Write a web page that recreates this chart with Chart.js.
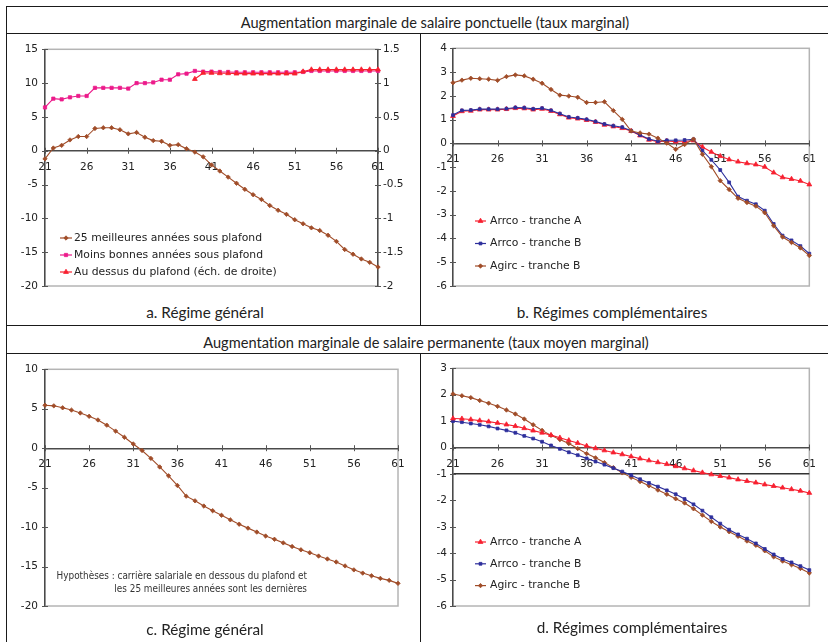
<!DOCTYPE html>
<html>
<head>
<meta charset="utf-8">
<script src="https://cdn.jsdelivr.net/npm/chart.js@4.4.1/dist/chart.umd.min.js"></script>
<style>
  html, body { margin: 0; padding: 0; background: #fff; }
  #page { position: relative; width: 828px; height: 642px; overflow: hidden; font-family: Lato, "Open Sans", sans-serif; color: #222;
          font-variant-ligatures: none; }
  .hline { position: absolute; height: 0; border-top: 1px solid #1a1a1a; }
  .vline { position: absolute; width: 0; border-left: 1px solid #1a1a1a; }
  .title { position: absolute; font-size: 14.6px; line-height: 18px; white-space: nowrap; transform: translateX(-50%); }
  .caption { position: absolute; font-size: 15.3px; line-height: 18px; white-space: nowrap; transform: translateX(-50%); }
  .panel { position: absolute; }
  .note { position: absolute; right: 521px; top: 570px; text-align: right; white-space: nowrap;
          font-family: "Liberation Sans Narrow", "DejaVu Sans Condensed", sans-serif; font-size: 9.9px; line-height: 12.5px; color: #333; }
</style>
</head>
<body>
<div id="page">
  <div class="hline" style="left:6px; width:822px; top:6px;"></div>
  <div class="hline" style="left:6px; width:822px; top:33px;"></div>
  <div class="hline" style="left:6px; width:822px; top:325px;"></div>
  <div class="hline" style="left:6px; width:822px; top:353px;"></div>
  <div class="vline" style="left:6px; top:6px; height:636px;"></div>
  <div class="vline" style="left:420px; top:33px; height:292px;"></div>
  <div class="vline" style="left:420px; top:353px; height:289px;"></div>

  <div class="title" style="left:435px; top:14px;">Augmentation marginale de salaire ponctuelle (taux marginal)</div>
  <div class="title" style="left:426px; top:334px;">Augmentation marginale de salaire permanente (taux moyen marginal)</div>

  <canvas id="chartA" class="panel" width="410" height="266" style="left:8px; top:36px;"></canvas>
  <canvas id="chartB" class="panel" width="404" height="266" style="left:422px; top:36px;"></canvas>
  <canvas id="chartC" class="panel" width="410" height="266" style="left:8px; top:356px;"></canvas>
  <canvas id="chartD" class="panel" width="404" height="266" style="left:422px; top:356px;"></canvas>

  <div class="caption" style="left:205px; top:303px;">a. Régime général</div>
  <div class="caption" style="left:612px; top:303px;">b. Régimes complémentaires</div>
  <div class="caption" style="left:205px; top:620px;">c. Régime général</div>
  <div class="caption" style="left:632px; top:618px;">d. Régimes complémentaires</div>

  <div class="note">Hypothèses : carrière salariale en dessous du plafond et<br>les 25 meilleures années sont les dernières</div>
</div>

<script>
// Ages (x categories)
const ages = [21, 22, 23, 24, 25, 26, 27, 28, 29, 30, 31, 32, 33, 34, 35, 36, 37, 38, 39, 40,
              41, 42, 43, 44, 45, 46, 47, 48, 49, 50, 51, 52, 53, 54, 55, 56, 57, 58, 59, 60, 61];
const xLabelEvery = 5;

// a. Régime général - taux marginal
const aBest25 = [-1.2, 0.4, 0.8, 1.6, 2.1, 2.1, 3.3, 3.4, 3.4, 3.1, 2.5, 2.7, 2.0, 1.5, 1.4, 0.8, 0.9, 0.3, -0.2, -0.9,
                 -2.1, -3.0, -3.9, -4.8, -5.7, -6.5, -7.2, -8.1, -8.8, -9.4, -10.2, -10.8, -11.4, -11.8, -12.5, -13.4, -14.6, -15.3, -16.0, -16.5, -17.2];
const aLessGood = [6.4, 7.7, 7.6, 7.9, 8.1, 8.1, 9.3, 9.3, 9.3, 9.3, 9.2, 10.0, 10.0, 10.1, 10.5, 10.5, 11.3, 11.4, 11.8, 11.7,
                   11.7, 11.65, 11.65, 11.6, 11.6, 11.6, 11.6, 11.6, 11.6, 11.6, 11.6, 11.65, 11.8, 11.8, 11.8, 11.8, 11.8, 11.8, 11.8, 11.8, 11.8];
const aAbove = [null, null, null, null, null, null, null, null, null, null, null, null, null, null, null, null, null, null, 1.06, 1.15,
                1.15, 1.145, 1.145, 1.14, 1.14, 1.14, 1.14, 1.14, 1.14, 1.14, 1.14, 1.17, 1.2, 1.2, 1.2, 1.2, 1.2, 1.2, 1.2, 1.2, 1.2];

// b. Régimes complémentaires - taux marginal
const bArrcoA = [1.15, 1.35, 1.37, 1.42, 1.42, 1.42, 1.44, 1.48, 1.47, 1.42, 1.45, 1.36, 1.22, 1.08, 1.04, 0.98, 0.9, 0.78, 0.71, 0.64,
                 0.52, 0.33, 0.15, 0.07, 0.1, 0.07, 0.08, 0.12, -0.15, -0.36, -0.54, -0.68, -0.77, -0.84, -0.89, -0.99, -1.23, -1.43, -1.5, -1.58, -1.73];
const bArrcoB = [1.19, 1.39, 1.40, 1.44, 1.44, 1.44, 1.46, 1.51, 1.50, 1.45, 1.48, 1.39, 1.25, 1.11, 1.07, 1.01, 0.92, 0.81, 0.74, 0.68,
                 0.53, 0.35, 0.18, 0.09, 0.13, 0.13, 0.14, 0.17, -0.3, -0.69, -1.12, -1.64, -2.24, -2.41, -2.56, -2.83, -3.39, -3.88, -4.08, -4.32, -4.64];
const bAgircB = [2.55, 2.66, 2.74, 2.72, 2.70, 2.65, 2.81, 2.88, 2.84, 2.70, 2.53, 2.27, 2.03, 1.99, 1.94, 1.72, 1.72, 1.75, 1.38, 1.01,
                 0.52, 0.44, 0.39, 0.22, 0.01, -0.25, -0.05, 0.18, -0.46, -0.98, -1.57, -1.94, -2.31, -2.49, -2.64, -2.92, -3.47, -3.94, -4.17, -4.40, -4.72];

// c. Régime général - taux moyen marginal
const cGeneral = [5.45, 5.37, 5.12, 4.83, 4.46, 4.04, 3.58, 2.92, 2.17, 1.38, 0.54, -0.29, -1.29, -2.38, -3.5, -4.72, -6.08, -6.67, -7.33, -7.92,
                  -8.5, -9.08, -9.63, -10.13, -10.63, -11.13, -11.54, -12.0, -12.46, -12.88, -13.25, -13.67, -14.04, -14.42, -14.92, -15.42, -15.83, -16.17, -16.5, -16.75, -17.13];

// d. Régimes complémentaires - taux moyen marginal
const dArrcoA = [1.10, 1.09, 1.06, 1.02, 0.98, 0.93, 0.87, 0.81, 0.73, 0.64, 0.56, 0.47, 0.37, 0.27, 0.17, 0.06, -0.03, -0.11, -0.19, -0.26,
                 -0.34, -0.42, -0.49, -0.56, -0.63, -0.71, -0.79, -0.87, -0.95, -1.02, -1.08, -1.14, -1.21, -1.27, -1.33, -1.4, -1.46, -1.52, -1.58, -1.64, -1.72];
const dArrcoB = [1.0, 0.96, 0.91, 0.86, 0.8, 0.72, 0.65, 0.56, 0.44, 0.34, 0.22, 0.08, -0.05, -0.18, -0.29, -0.41, -0.53, -0.65, -0.78, -0.91,
                 -1.05, -1.2, -1.34, -1.48, -1.62, -1.77, -1.95, -2.15, -2.39, -2.64, -2.88, -3.11, -3.29, -3.45, -3.63, -3.84, -4.05, -4.22, -4.35, -4.49, -4.64];
const dAgircB = [2.03, 1.96, 1.89, 1.78, 1.68, 1.56, 1.42, 1.27, 1.08, 0.86, 0.65, 0.46, 0.30, 0.15, -0.04, -0.23, -0.39, -0.57, -0.76, -0.96,
                 -1.13, -1.29, -1.45, -1.61, -1.77, -1.94, -2.1, -2.32, -2.56, -2.8, -3.01, -3.19, -3.36, -3.54, -3.7, -3.91, -4.14, -4.3, -4.44, -4.58, -4.75];

const BROWN = "#a04c28";
const PINK = "#ec1a8a";
const RED = "#f72030";
const BLUE = "#2d2f9c";

const tickFont = { family: '"DejaVu Sans", Verdana, sans-serif', size: 10.5 };

// light grey frame round the plot area
const plotFrame = {
    id: "plotFrame",
    beforeDraw(chart) {
        const { ctx, chartArea: a } = chart;
        ctx.save();
        ctx.strokeStyle = "#b4b4b4";
        ctx.lineWidth = 1.5;
        ctx.strokeRect(a.left, a.top, a.right - a.left, a.bottom - a.top);
        ctx.restore();
    }
};

// tick marks crossing the axis lines
const crossTicks = {
    id: "crossTicks",
    beforeDatasetsDraw(chart) {
        const ctx = chart.ctx;
        const area = chart.chartArea;
        ctx.save();
        ctx.strokeStyle = "#555";
        ctx.lineWidth = 1;
        Object.values(chart.scales).forEach(s => {
            s.ticks.forEach((t, i) => {
                if (t.label === null || t.label === undefined || t.label === "") return;
                ctx.beginPath();
                if (s.axis === "x") {
                    const x = Math.round(s.getPixelForTick(i)) + 0.5;
                    const y0 = chart.scales.y.getPixelForValue(0);
                    ctx.moveTo(x, y0 - 3);
                    ctx.lineTo(x, y0 + 3);
                } else {
                    const y = Math.round(s.getPixelForTick(i)) + 0.5;
                    const x0 = s.position === "right" ? area.right : area.left;
                    ctx.moveTo(x0 - 3, y);
                    ctx.lineTo(x0 + 3, y);
                }
                ctx.stroke();
            });
        });
        ctx.restore();
    }
};

// legend drawn at a fixed spot inside the plot
const fixedLegend = {
    id: "fixedLegend",
    afterDraw(chart, args, opts) {
        if (!opts || opts.x === undefined) return;
        const ctx = chart.ctx;
        ctx.save();
        ctx.font = '10.8px "DejaVu Sans", Verdana, sans-serif';
        ctx.textBaseline = "middle";
        chart.data.datasets.forEach((ds, i) => {
            const y = opts.y + i * opts.gap;
            ctx.strokeStyle = ds.borderColor;
            ctx.fillStyle = ds.borderColor;
            ctx.lineWidth = 1.2;
            ctx.beginPath();
            ctx.moveTo(opts.x, y);
            ctx.lineTo(opts.x + opts.len, y);
            ctx.stroke();
            ctx.lineWidth = 0.8;
            Chart.helpers.drawPoint(ctx, { pointStyle: ds.pointStyle, radius: ds.pointRadius, borderWidth: 0.8, rotation: 0 },
                opts.x + opts.len / 2, y);
            ctx.fillStyle = "#222";
            ctx.fillText(ds.label, opts.x + opts.len + opts.pad, y);
        });
        ctx.restore();
    }
};

function series(label, data, color, style, radius, order, axisId) {
    return {
        label: label,
        data: data,
        yAxisID: axisId || "y",
        order: order,
        borderColor: color,
        backgroundColor: color,
        pointBackgroundColor: color,
        pointBorderColor: color,
        pointStyle: style,
        pointRadius: radius,
        pointBorderWidth: 0.8,
        borderWidth: 1.1,
        tension: 0,
        fill: false
    };
}

function yScale(min, max, step, width, position, pad, darkLineAt) {
    return {
        type: "linear",
        position: position,
        min: min,
        max: max,
        ticks: {
            stepSize: step, color: "#222", font: tickFont, padding: pad,
            callback: value => String(Math.round(value * 10) / 10)
        },
        grid: {
            display: darkLineAt !== undefined,
            drawTicks: false,
            drawOnChartArea: true,
            lineWidth: 1.4,
            color: c => (c.tick && c.tick.value === darkLineAt) ? "#333" : "rgba(0,0,0,0)"
        },
        border: { display: true, color: "#4a4a4a", width: 1.4 },
        afterFit: s => { s.width = width; }
    };
}

function xScale() {
    return {
        type: "category",
        position: { y: 0 },
        offset: false,
        ticks: {
            autoSkip: false,
            maxRotation: 0,
            color: "#222",
            font: tickFont,
            padding: 10,
            callback: function (value) {
                const age = this.getLabelForValue(value);
                return (age - ages[0]) % xLabelEvery === 0 ? String(age) : null;
            }
        },
        grid: { display: false, drawTicks: false },
        border: { display: true, color: "#4a4a4a", width: 1.4 }
    };
}

function makeChart(id, datasets, scales, padding, legend) {
    return new Chart(document.getElementById(id), {
        type: "line",
        data: { labels: ages, datasets: datasets },
        options: {
            responsive: false,
            animation: false,
            devicePixelRatio: 1,
            layout: { padding: padding },
            plugins: {
                legend: { display: false },
                tooltip: { enabled: false },
                fixedLegend: legend || {}
            },
            scales: scales
        },
        plugins: [plotFrame, crossTicks, fixedLegend]
    });
}

// a. Régime général (ponctuelle)
const rightAxisA = yScale(-2, 1.5, 0.5, 40, "right", 5);
rightAxisA.grid = { display: false, drawTicks: false, drawOnChartArea: false };
makeChart("chartA", [
    series("25 meilleures années sous plafond", aBest25, BROWN, "rectRot", 2.2, 2),
    series("Moins bonnes années sous plafond", aLessGood, PINK, "rect", 2.3, 1),
    series("Au dessus du plafond (éch. de droite)", aAbove, RED, "triangle", 2.8, 0, "y1")
], {
    x: xScale(),
    y: yScale(-20, 15, 5, 37, "left", 7),
    y1: rightAxisA
}, { left: 0, right: 0, top: 10, bottom: 16 },
{ x: 52, y: 202, gap: 17, len: 12, pad: 2 });

// b. Régimes complémentaires (ponctuelle)
makeChart("chartB", [
    series("Arrco - tranche A", bArrcoA, RED, "triangle", 2.8, 2),
    series("Arrco - tranche B", bArrcoB, BLUE, "rect", 2, 1),
    series("Agirc - tranche B", bAgircB, BROWN, "rectRot", 2.2, 0)
], {
    x: xScale(),
    y: yScale(-6, 4, 1, 31, "left", 6)
}, { left: 0, right: 14, top: 10, bottom: 16 },
{ x: 53, y: 185, gap: 22.5, len: 11, pad: 4 });

// c. Régime général (permanente)
makeChart("chartC", [
    series("Régime général", cGeneral, BROWN, "rectRot", 2.2, 0)
], {
    x: xScale(),
    y: yScale(-20, 10, 5, 37, "left", 7)
}, { left: 0, right: 20, top: 10, bottom: 16 });

// d. Régimes complémentaires (permanente)
makeChart("chartD", [
    series("Arrco - tranche A", dArrcoA, RED, "triangle", 2.8, 0),
    series("Arrco - tranche B", dArrcoB, BLUE, "rect", 2, 1),
    series("Agirc - tranche B", dAgircB, BROWN, "rectRot", 2.2, 2)
], {
    x: xScale(),
    y: yScale(-6, 3, 1, 31, "left", 6, -1)
}, { left: 0, right: 14, top: 10.5, bottom: 16 },
{ x: 53, y: 186, gap: 21.8, len: 11, pad: 4 });
</script>
</body>
</html>
